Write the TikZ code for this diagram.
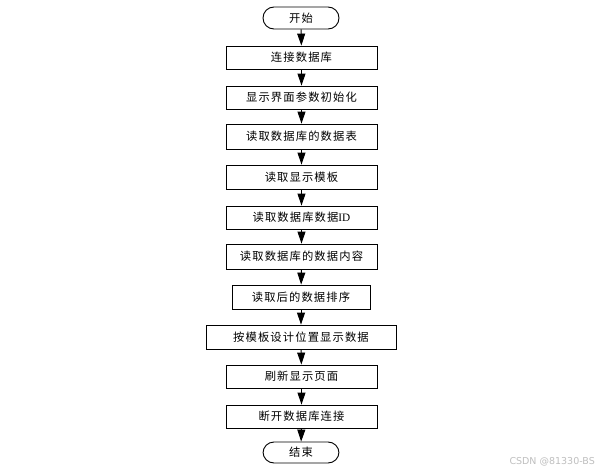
\documentclass[tikz,border=0pt]{standalone}
\usepackage{fontspec}
\newfontfamily\cjk[LetterSpace=10]{Noto Sans CJK SC}
\newfontfamily\serifid{Liberation Serif}
\usetikzlibrary{arrows.meta}
\begin{document}
\begin{tikzpicture}[x=1pt,y=-1pt,
  box/.style={draw=black,line width=0.9pt,fill=white,inner sep=0pt,font=\cjk\fontsize{11.3}{13}\selectfont,text=black},
  term/.style={box,rounded corners=11pt,minimum width=76pt,minimum height=22pt},
  flow/.style={line width=0.9pt,-{Triangle[length=12pt,width=8pt]}}]
\fill[white] (0,0) rectangle (606,471);
\node[term] (s) at (301,18) {开始};
\node[box,minimum width=151pt,minimum height=23pt] (b1) at (301.5,57.5) {连接数据库};
\node[box,minimum width=151pt,minimum height=23pt] (b2) at (301.5,97.5) {显示界面参数初始化};
\node[box,minimum width=151pt,minimum height=25pt] (b3) at (301.5,136.5) {读取数据库的数据表};
\node[box,minimum width=151pt,minimum height=24pt] (b4) at (301.5,177) {读取显示模板};
\node[box,minimum width=151pt,minimum height=23pt] (b5) at (301.5,217.5) {读取数据库数据{\serifid ID}};
\node[box,minimum width=151pt,minimum height=25pt] (b6) at (301.5,256.5) {读取数据库的数据内容};
\node[box,minimum width=138pt,minimum height=24pt] (b7) at (301,297) {读取后的数据排序};
\node[box,minimum width=190pt,minimum height=24pt] (b8) at (301,337) {按模板设计位置显示数据};
\node[box,minimum width=151pt,minimum height=23pt] (b9) at (301.5,376.5) {刷新显示页面};
\node[box,minimum width=151pt,minimum height=23pt] (b10) at (301.5,416.5) {断开数据库连接};
\node[term,minimum height=21pt] (e) at (301,452.5) {结束};
\draw[flow] (s) -- (b1);
\draw[flow] (b1) -- (b2);
\draw[flow] (b2) -- (b3);
\draw[flow] (b3) -- (b4);
\draw[flow] (b4) -- (b5);
\draw[flow] (b5) -- (b6);
\draw[flow] (b6) -- (b7);
\draw[flow] (b7) -- (b8);
\draw[flow] (b8) -- (b9);
\draw[flow] (b9) -- (b10);
\draw[flow] (b10) -- (e);
\node[anchor=east,inner sep=0pt,text=black!25,font=\fontspec{DejaVu Sans}\fontsize{9.5}{11}\selectfont] (wm) at (595,462) {CSDN @81330-BS};
\end{tikzpicture}
\end{document}
